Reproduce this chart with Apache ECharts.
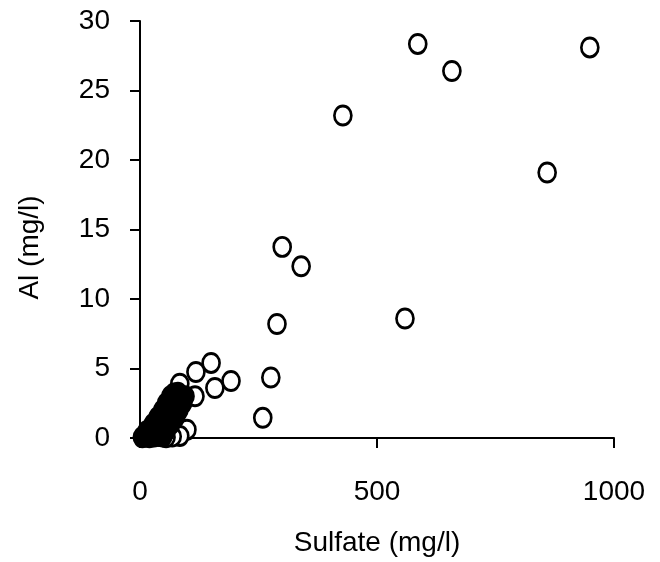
<!DOCTYPE html>
<html>
<head>
<meta charset="utf-8">
<script src="https://cdn.jsdelivr.net/npm/echarts@6/dist/echarts.min.js"></script>
<style>html,body{margin:0;padding:0;background:#fff;}#c{width:660px;height:562px;}</style>
</head>
<body>
<div id="c"></div>
<script>
// Open-circle series (Sulfate mg/l, Al mg/l)
var openX = [586, 658, 949, 428, 859, 300, 340, 289, 559, 276, 259, 150, 118, 158, 192, 84, 116, 99, 84, 68, 55];
var openY = [28.35, 26.4, 28.1, 23.2, 19.1, 13.75, 12.35, 8.2, 8.6, 4.35, 1.45, 5.4, 4.75, 3.6, 4.1, 3.9, 3.0, 0.6, 0.15, 0.1, 0.05];
// Filled (black) series
var filledX = [5, 12, 20, 30, 40, 48, 15, 25, 40, 55, 28, 40, 55, 65, 38, 50, 62, 75, 48, 60, 72, 82, 56, 68, 80, 90, 65, 75, 85, 95, 72, 80];
var filledY = [0.05, 0.1, 0.05, 0.1, 0.15, 0.1, 0.5, 0.45, 0.55, 0.5, 1.0, 1.05, 0.95, 1.0, 1.5, 1.55, 1.45, 1.5, 2.0, 2.05, 1.95, 2.0, 2.5, 2.55, 2.45, 2.5, 3.0, 3.05, 2.95, 3.0, 3.2, 3.25];
var xTicks = [0, 500, 1000];
var yTicks = [0, 5, 10, 15, 20, 25, 30];

function pairs(xs, ys) { return xs.map(function (v, i) { return [v, ys[i]]; }); }

var chart = echarts.init(document.getElementById('c'));
var font = 'Liberation Sans, Arial, sans-serif';
chart.setOption({
  animation: false,
  grid: { left: 140, right: 46, top: 21, bottom: 123 },
  xAxis: {
    type: 'value', min: 0, max: 1000, interval: 500,
    name: 'Sulfate (mg/l)', nameLocation: 'middle', nameGap: 91,
    nameTextStyle: { fontFamily: font, fontSize: 28, color: '#000' },
    axisLine: { show: true, onZero: false, lineStyle: { color: '#000', width: 2 } },
    axisTick: { show: true, inside: false, length: 10, lineStyle: { color: '#000', width: 2 } },
    axisLabel: { margin: 40, fontFamily: font, fontSize: 28, color: '#000',
      formatter: function (v) { return xTicks.indexOf(v) >= 0 ? String(v) : ''; } },
    splitLine: { show: false }
  },
  yAxis: {
    type: 'value', min: 0, max: 30, interval: 5,
    name: 'Al (mg/l)', nameLocation: 'middle', nameGap: 96,
    nameTextStyle: { fontFamily: font, fontSize: 28, color: '#000', padding: [0, 36, 0, 0] },
    axisLine: { show: true, onZero: false, lineStyle: { color: '#000', width: 2 } },
    axisTick: { show: true, inside: false, length: 10, lineStyle: { color: '#000', width: 2 } },
    axisLabel: { margin: 30, fontFamily: font, fontSize: 28, color: '#000',
      formatter: function (v) { return yTicks.indexOf(v) >= 0 ? String(v) : ''; } },
    splitLine: { show: false }
  },
  series: [
    {
      type: 'scatter', data: pairs(openX, openY), symbol: 'circle', symbolSize: [17, 19],
      itemStyle: { color: '#fff', borderColor: '#000', borderWidth: 2.8, opacity: 1 },
      z: 2
    },
    {
      type: 'scatter', data: pairs(filledX, filledY), symbol: 'circle', symbolSize: [17, 19],
      itemStyle: { color: '#000', borderColor: '#000', borderWidth: 2.8, opacity: 1 },
      z: 3
    }
  ]
});
</script>
</body>
</html>
